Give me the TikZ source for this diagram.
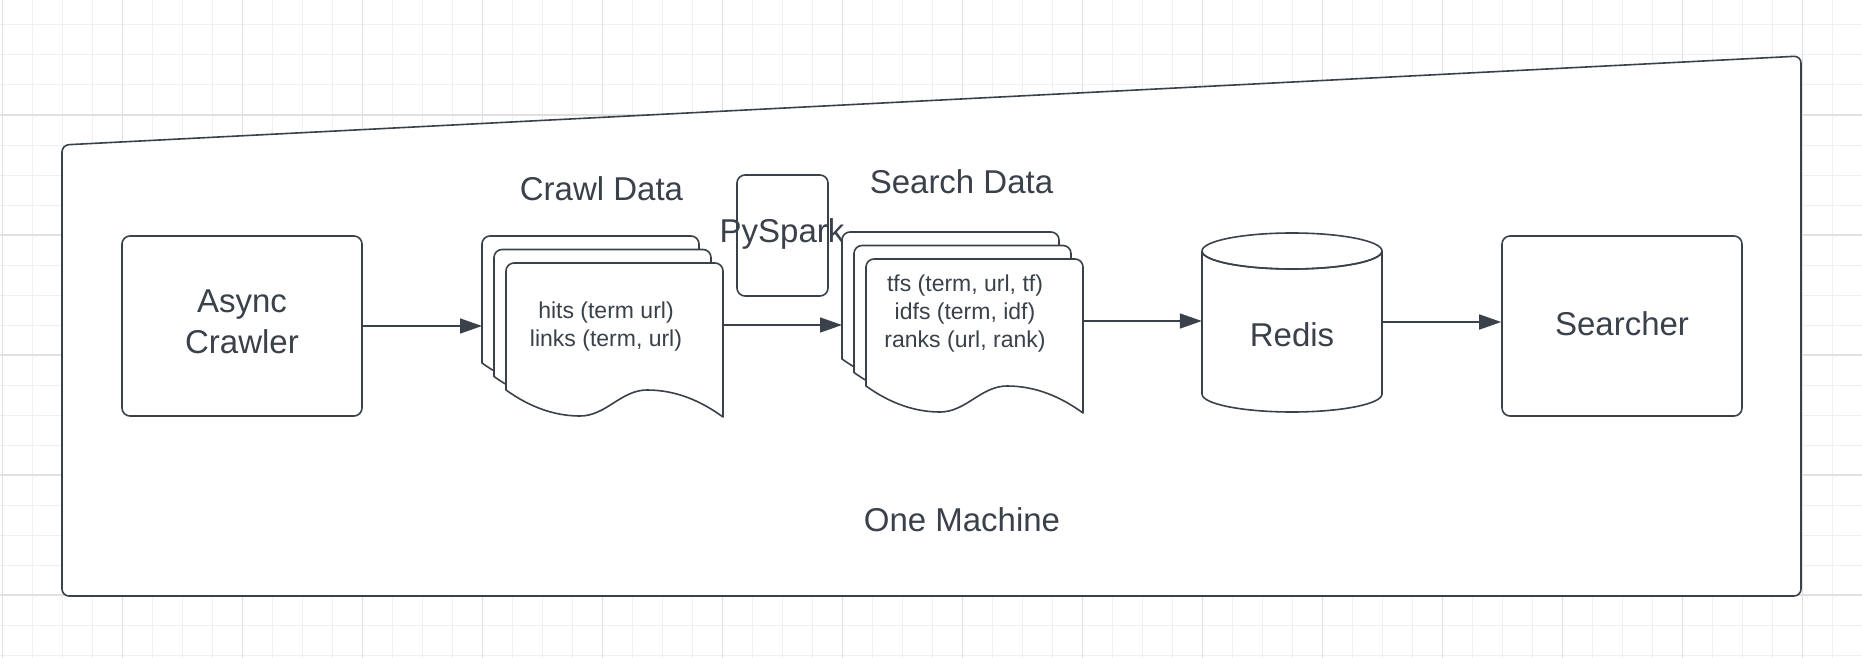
\documentclass[tikz,border=0pt]{standalone}
\usepackage{fontspec}
\setmainfont{Liberation Sans}
\usetikzlibrary{arrows.meta}
\definecolor{ink}{HTML}{3A414A}
\definecolor{gridminor}{HTML}{F0F0F0}
\definecolor{gridmajor}{HTML}{E0E0E0}
\begin{document}
\begin{tikzpicture}[x=1pt,y=-1pt,
    line/.style={draw=ink,line width=1.6pt,line join=round},
    big/.style={font=\fontsize{33}{41}\selectfont,text=ink,align=center},
    small/.style={font=\fontsize{23}{28}\selectfont,text=ink,align=center},
    box/.style={line,fill=white,rounded corners=8pt,inner sep=0pt},
    arr/.style={line,-{Triangle[length=22pt,width=15pt]}},
    minor/.style={draw=gridminor,line width=1pt},
    major/.style={draw=gridmajor,line width=1.4pt},
    page/.pic={
      \draw[line,fill=white] (0,127) [rounded corners=8pt] -- (0,0) -- (217,0)
        [sharp corners] -- (217,154)
        .. controls (195,138) and (170,127) .. (141,127)
        .. controls (115,127) and (100,153) .. (74,153)
        .. controls (50,153) and (25,145) .. (0,127) -- cycle;
      \coordinate (-w) at (0,90);
      \coordinate (-e) at (217,62);
    }]
  \useasboundingbox (0,0) rectangle (1862,658);
  % background grid
  \foreach \gx in {2.7,32.7,...,1862} \draw[minor] (\gx,0) -- (\gx,658);
  \foreach \gy in {25,55,...,658} \draw[minor] (0,\gy) -- (1862,\gy);
  \foreach \gx in {2.7,122.7,...,1862} \draw[major] (\gx,0) -- (\gx,658);
  \foreach \gy in {115,235,...,658} \draw[major] (0,\gy) -- (1862,\gy);
  % the machine
  \draw[line,fill=white,rounded corners=7pt] (62,145) -- (1801,56) -- (1801,596) -- (62,596) -- cycle;
  \node[big,anchor=base] (machine) at (962,531) {One Machine};

  \node[box,minimum width=240pt,minimum height=180pt,
    label={[big,yshift=4.5pt]center:{Async\\Crawler}}] (crawler) at (242,326) {};

  % crawl data stack
  \pic (crawlA) at (482,236) {page};
  \pic (crawlB) at (494,249.5) {page};
  \pic (crawlC) at (506,263) {page};
  \node[small] (crawltxt) at (606,326.5) {hits (term url)\\links (term, url)};
  \node[big,anchor=base] (crawllbl) at (601.5,200) {Crawl Data};

  % pyspark job
  \node[box,minimum width=91pt,minimum height=121pt] (spark) at (782.5,235.5) {};
  \node[big,anchor=base] (sparklbl) at (782,242) {PySpark};

  % search data stack
  \pic (searchA) at (842,232) {page};
  \pic (searchB) at (854,245.5) {page};
  \pic (searchC) at (866,259) {page};
  \node[small] (searchtxt) at (965,314) {tfs (term, url, tf)\\idfs (term, idf)\\ranks (url, rank)};
  \node[big,anchor=base] (searchlbl) at (961.5,193) {Search Data};

  % redis
  \node[minimum width=180pt,minimum height=180pt] (redis) at (1292,322) {};
  \draw[line,fill=white] (1202,251) -- (1202,394) arc[start angle=180,end angle=360,x radius=90pt,y radius=18pt]
    -- (1382,251) arc[start angle=0,end angle=180,x radius=90pt,y radius=-18pt];
  \draw[line] (1292,251) ellipse[x radius=90pt,y radius=18pt];
  \node[big,anchor=base] (redislbl) at (1292,346) {Redis};

  \node[box,minimum width=240pt,minimum height=180pt,
    label={[big,yshift=2.5pt]center:Searcher}] (searcher) at (1622,326) {};

  \draw[arr] (crawler) -- (crawlA-w);
  \draw[arr] (crawlC-e) -- (crawlC-e -| searchA-w);
  \draw[arr] (searchC-e) -- (searchC-e -| redis.west);
  \draw[arr] (redis.east) -- (redis.east -| searcher.west);
\end{tikzpicture}
\end{document}
